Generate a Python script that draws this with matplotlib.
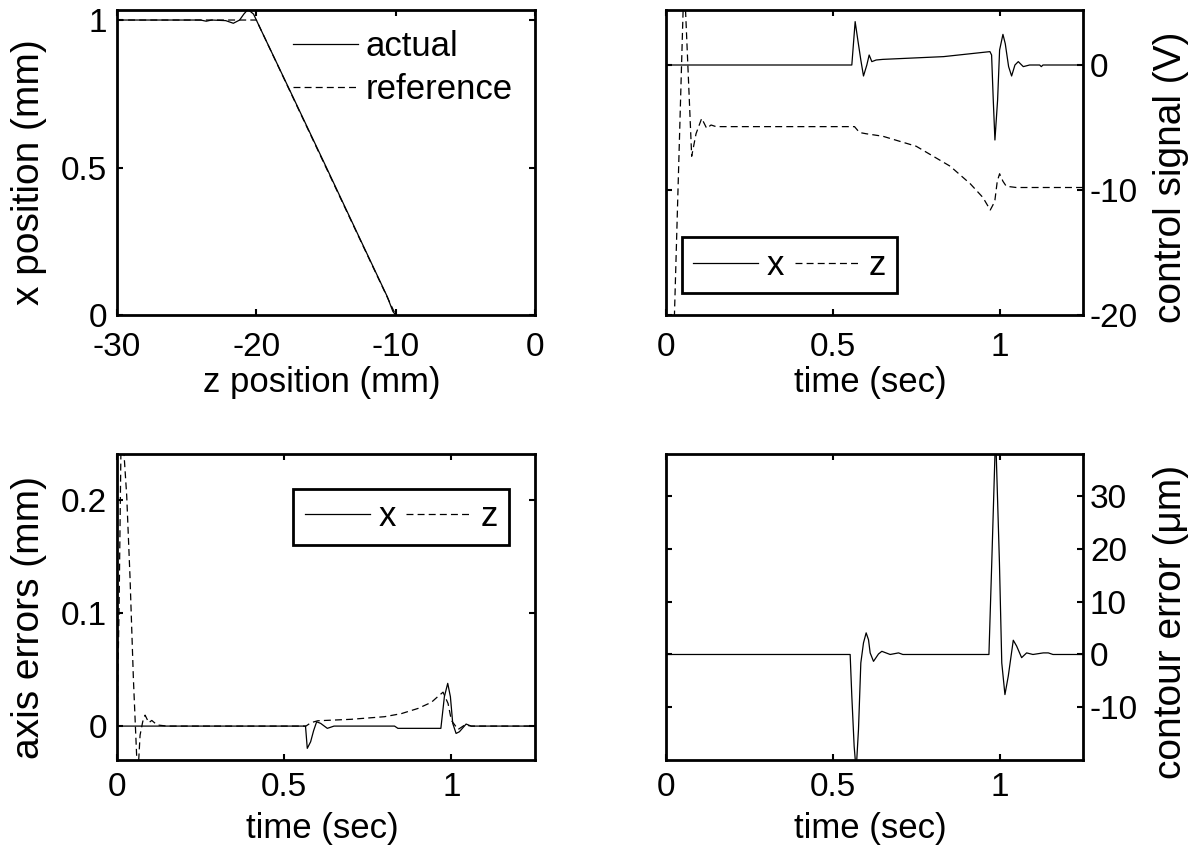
import matplotlib
matplotlib.use("Agg")
import matplotlib.pyplot as plt

plt.rcParams['font.family'] = ['Liberation Sans', 'DejaVu Sans']
plt.rcParams['axes.unicode_minus'] = False
plt.rcParams['lines.scale_dashes'] = False

FS_TICK = 24
FS_XLAB = 25
FS_YLAB = 28
FS_LEG = 25

# ---- data: top-left (x position vs z position) ----
z_actual = [-30, -24, -23.6, -23.2, -22.2, -21.65, -21.2, -20.9, -20.6, -20.2, -19.7, -17.5, -15, -12.5, -11.2, -10.6, -10.2, -10.0]
x_actual = [1.0, 1.0, 0.996, 1.0, 0.998, 0.989, 1.0, 1.02, 1.036, 1.02, 0.97, 0.752, 0.503, 0.252, 0.122, 0.062, 0.012, 0.0]
z_ref = [-30, -20, -10]
x_ref = [1.0, 1.0, 0.0]

# ---- data: top-right (control signals, V) ----
t_ux = [0, 0.557, 0.567, 0.575, 0.584, 0.592, 0.602, 0.609, 0.617, 0.63, 0.65, 0.832, 0.971, 0.976, 0.981, 0.986, 0.994, 1.0, 1.01, 1.017, 1.027, 1.036, 1.046, 1.056, 1.071, 1.09, 1.12, 1.125, 1.13, 1.25]
u_x = [0, 0, 3.47, 2.0, 0.4, -0.88, 0, 0.8, 0.27, 0.4, 0.45, 0.67, 1.07, 0.8, -2.8, -6.0, -2.8, 1.2, 2.45, 1.7, -0.13, -0.88, 0, 0.27, -0.13, 0, 0, -0.13, 0, 0]
t_uz = [0, 0.02, 0.053, 0.056, 0.077, 0.09, 0.107, 0.122, 0.135, 0.15, 0.3, 0.565, 0.58, 0.6, 0.65, 0.75, 0.852, 0.912, 0.95, 0.972, 0.98, 0.986, 0.993, 1.0, 1.01, 1.02, 1.05, 1.25]
u_z = [-25, -25, 6, 6, -7.3, -5.5, -4.27, -5.07, -4.8, -4.93, -4.93, -4.93, -5.4, -5.5, -5.7, -6.5, -8.1, -9.5, -10.6, -11.6, -11.2, -10.8, -9.3, -8.7, -9.3, -9.7, -9.8, -9.8]

# ---- data: bottom-left (axis errors, mm) ----
t_ex = [0, 0.5637, 0.569, 0.579, 0.588, 0.597, 0.609, 0.629, 0.649, 0.83, 0.84, 0.9685, 0.979, 0.989, 0.997, 1.004, 1.014, 1.024, 1.044, 1.059, 1.25]
e_x = [0, 0, -0.0197, -0.0139, -0.004, 0.0038, 0.0024, -0.002, 0, 0, -0.002, -0.002, 0.026, 0.0378, 0.026, 0.0024, -0.0065, -0.005, 0.0018, 0, 0]
t_ez = [0, 0.006, 0.012, 0.02, 0.029, 0.039, 0.049, 0.059, 0.064, 0.069, 0.077, 0.084, 0.095, 0.104, 0.12, 0.15, 0.565, 0.58, 0.6, 0.7, 0.8, 0.85, 0.9, 0.94, 0.959, 0.975, 0.99, 1.0, 1.02, 1.04, 1.06, 1.25]
e_z = [0, 0.1, 0.25, 0.245, 0.204, 0.131, 0.042, -0.028, -0.035, -0.008, 0.004, 0.0097, 0.003, 0.005, 0.001, 0, 0, 0.003, 0.0047, 0.006, 0.0083, 0.011, 0.0156, 0.021, 0.026, 0.03, 0.02, 0.005, -0.003, 0.001, 0, 0]

# ---- data: bottom-right (contour error, um) ----
t_ec = [0, 0.552, 0.557, 0.564, 0.570, 0.577, 0.584, 0.592, 0.6, 0.607, 0.612, 0.622, 0.637, 0.647, 0.672, 0.697, 0.71, 0.968, 0.9765, 0.988, 0.9995, 1.0065, 1.016, 1.026, 1.041, 1.051, 1.066, 1.081, 1.10, 1.131, 1.146, 1.16, 1.25]
e_c = [0, 0, -7.9, -17.4, -22, -14.2, -1.6, 2.2, 4.1, 2.8, 0.3, -1.3, 0.1, 0.6, 0, 0.3, 0, 0, 17.4, 42, 17.4, -1.6, -7.6, -4.1, 2.7, 1.6, -0.6, 0.3, 0, 0.3, 0.3, 0, 0]

W, H = 1202, 852
fig = plt.figure(figsize=(W / 100, H / 100), dpi=100)


def axpos(l, r, t, b):
    return [l / W, (H - b) / H, (r - l) / W, (b - t) / H]


LW = 0.9
DASH = (5, 3)


def style(ax, right=False, xpad=10):
    for s in ax.spines.values():
        s.set_linewidth(2.0)
    ax.tick_params(direction='in', top=True, right=True, left=True, bottom=True,
                   length=4, width=1.5, labelsize=FS_TICK)
    ax.tick_params(axis='x', pad=xpad)
    if right:
        ax.yaxis.set_label_position('right')
        ax.tick_params(axis='y', labelleft=False, labelright=True, pad=5)
    else:
        ax.tick_params(axis='y', pad=7)


def labels(ax, xl, yl, xy_x, xy_y, yy_x, yy_y):
    ax.set_xlabel(xl, fontsize=FS_XLAB)
    ax.xaxis.label.set(va='center', ha='center')
    ax.xaxis.set_label_coords(xy_x, xy_y)
    ax.set_ylabel(yl, fontsize=FS_YLAB)
    ax.yaxis.label.set(va='center', ha='center', rotation=90, rotation_mode='anchor')
    ax.yaxis.set_label_coords(yy_x, yy_y)


def boxed_legend(ax, anchor):
    leg = ax.legend(loc='lower left', bbox_to_anchor=anchor, ncol=2, fontsize=FS_LEG,
                    frameon=True, fancybox=False, edgecolor='black', framealpha=1,
                    handlelength=1.87, handletextpad=0.26, columnspacing=0.29,
                    borderpad=0.33, borderaxespad=0)
    leg.get_frame().set_linewidth(2.0)
    return leg


# top-left
ax1 = fig.add_axes(axpos(117, 535, 10, 315))
ax1.plot(z_actual, x_actual, color='black', lw=LW, label='actual')
ax1.plot(z_ref, x_ref, color='black', lw=LW, ls=(0, DASH), label='reference')
ax1.set_xlim(-30, 0)
ax1.set_ylim(0, 1.034)
ax1.set_xticks([-30, -20, -10, 0])
ax1.set_yticks([0, 0.5, 1])
ax1.set_yticklabels(['0', '0.5', '1'])
style(ax1, xpad=12)
labels(ax1, 'z position (mm)', 'x position (mm)', 0.49, -0.22, -0.21, 0.47)
ax1.legend(loc='upper left', bbox_to_anchor=(0.421, 0.935), frameon=False, fontsize=FS_LEG,
           handlelength=1.87, handletextpad=0.23, borderpad=0, borderaxespad=0, labelspacing=0.3)

# top-right
ax2 = fig.add_axes(axpos(666, 1083, 10, 315))
ax2.plot(t_ux, u_x, color='black', lw=LW, label='x')
ax2.plot(t_uz, u_z, color='black', lw=LW, ls=(0, DASH), label='z')
ax2.set_xlim(0, 1.25)
ax2.set_ylim(-20, 4.4)
ax2.set_xticks([0, 0.5, 1])
ax2.set_xticklabels(['0', '0.5', '1'])
ax2.set_yticks([-20, -10, 0])
style(ax2, right=True, xpad=12)
labels(ax2, 'time (sec)', 'control signal (V)', 0.49, -0.22, 1.21, 0.45)
boxed_legend(ax2, (0.0376, 0.071))

# bottom-left
ax3 = fig.add_axes(axpos(117, 535, 454, 760))
ax3.plot(t_ex, e_x, color='black', lw=LW, label='x')
ax3.plot(t_ez, e_z, color='black', lw=LW, ls=(0, DASH), label='z')
ax3.set_xlim(0, 1.25)
ax3.set_ylim(-0.030, 0.2407)
ax3.set_xticks([0, 0.5, 1])
ax3.set_xticklabels(['0', '0.5', '1'])
ax3.set_yticks([0, 0.1, 0.2])
ax3.set_yticklabels(['0', '0.1', '0.2'])
style(ax3, xpad=9)
labels(ax3, 'time (sec)', 'axis errors (mm)', 0.49, -0.225, -0.21, 0.467)
boxed_legend(ax3, (0.422, 0.703))

# bottom-right
ax4 = fig.add_axes(axpos(666, 1083, 454, 760))
ax4.plot(t_ec, e_c, color='black', lw=LW)
ax4.set_xlim(0, 1.25)
ax4.set_ylim(-20, 38)
ax4.set_xticks([0, 0.5, 1])
ax4.set_xticklabels(['0', '0.5', '1'])
ax4.set_yticks([-10, 0, 10, 20, 30])
style(ax4, right=True, xpad=9)
labels(ax4, 'time (sec)', 'contour error (μm)', 0.49, -0.225, 1.21, 0.45)

fig.savefig('out.png', dpi=100)
